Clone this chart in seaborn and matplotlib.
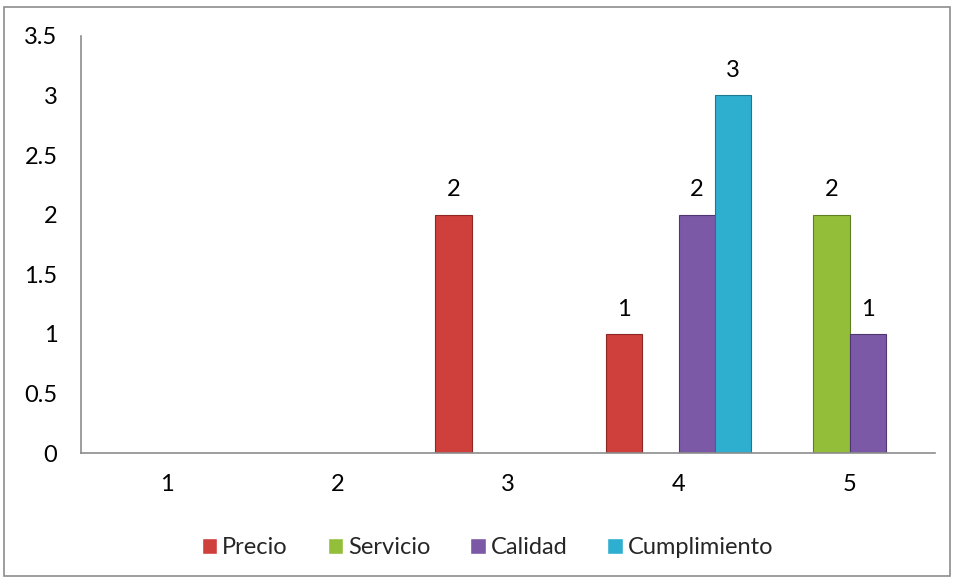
import pandas as pd
import numpy as np
import matplotlib.pyplot as plt
import seaborn as sns
from matplotlib.patches import Rectangle

# values (0 = no bar)
categories = [1, 2, 3, 4, 5]
precio = [0, 0, 2, 1, 0]
servicio = [0, 0, 0, 0, 2]
calidad = [0, 0, 0, 2, 1]
cumplimiento = [0, 0, 0, 3, 0]
series_names = ['Precio', 'Servicio', 'Calidad', 'Cumplimiento']

rows = []
for name, vals in zip(series_names, [precio, servicio, calidad, cumplimiento]):
    for c, v in zip(categories, vals):
        rows.append({'Categoria': str(c), 'Serie': name, 'Valor': v})
df = pd.DataFrame(rows)

palette = {'Precio': '#CF3F3C', 'Servicio': '#93BE3A',
           'Calidad': '#7B59A6', 'Cumplimiento': '#2FAFD0'}
edges = {'Precio': '#8E2624', 'Servicio': '#5F7E22',
         'Calidad': '#4E3670', 'Cumplimiento': '#1D7890'}

sns.set_theme(style="white")
plt.rcParams['font.family'] = ['Lato', 'DejaVu Sans']

fig = plt.figure(figsize=(9.54, 5.78), dpi=100)
ax = fig.add_axes([0.085, 0.216, 0.895, 0.722])

sns.barplot(data=df, x='Categoria', y='Valor', hue='Serie',
            order=[str(c) for c in categories], hue_order=series_names,
            palette=palette, width=0.85, dodge=True, ax=ax, saturation=1,
            errorbar=None)

# edges per series, hide empty bars, add value labels
for cont, name in zip(ax.containers, series_names):
    for p in cont.patches:
        h = p.get_height()
        if h <= 0:
            p.set_visible(False)
            continue
        p.set_edgecolor(edges[name])
        p.set_linewidth(0.8)
        ax.text(p.get_x() + p.get_width() / 2, h + 0.12, f'{int(h)}',
                ha='center', va='bottom', fontsize=17, color='black')

ax.set_ylim(0, 3.5)
ax.set_yticks(np.arange(0, 3.51, 0.5))
ax.set_yticklabels(['0', '0.5', '1', '1.5', '2', '2.5', '3', '3.5'])
ax.set_xlabel('')
ax.set_ylabel('')
ax.tick_params(axis='both', length=0, labelsize=17, colors='black')
ax.tick_params(axis='y', pad=17)
ax.tick_params(axis='x', pad=15)

for s in ['top', 'right']:
    ax.spines[s].set_visible(False)
for s in ['left', 'bottom']:
    ax.spines[s].set_color('#8C8C8C')
    ax.spines[s].set_linewidth(1.2)

ax.legend(loc='upper center', bbox_to_anchor=(0.476, -0.15), ncol=4,
          frameon=False, fontsize=17, handlelength=0.65, handleheight=0.65,
          handletextpad=0.2, columnspacing=1.7)

# outer chart border
fig.patches.append(Rectangle((0.004, 0.004), 0.992, 0.984, transform=fig.transFigure,
                             fill=False, edgecolor='#8C8C8C', linewidth=1.2))

plt.savefig('out.png', dpi=100)
